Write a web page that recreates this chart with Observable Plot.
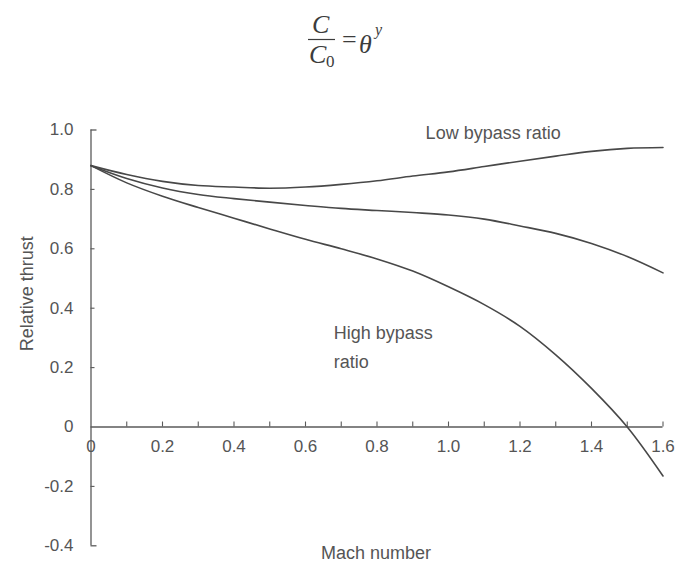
<!DOCTYPE html>
<html>
<head>
<meta charset="utf-8">
<script src="https://cdn.jsdelivr.net/npm/d3@7"></script>
<script src="https://cdn.jsdelivr.net/npm/@observablehq/plot@0.6"></script>
<style>
  html, body { margin: 0; padding: 0; background: #fff; }
  #wrap { position: relative; width: 678px; height: 565px; overflow: hidden; }
  #formula { position: absolute; left: 0; top: 0; }
  #chart { position: absolute; left: 0; top: 0; }
</style>
</head>
<body>
<div id="wrap">
  <div id="chart"></div>
  <svg id="formula" width="678" height="80" font-family="'Liberation Serif', 'Times New Roman', serif" fill="#3c3c3c">
    <text x="312" y="33" font-size="26" font-style="italic">C</text>
    <line x1="308" x2="335" y1="39.5" y2="39.5" stroke="#3c3c3c" stroke-width="1.2"></line>
    <text x="309" y="63" font-size="26" font-style="italic">C</text>
    <text x="326" y="67" font-size="17">0</text>
    <text x="342" y="48" font-size="26">=</text>
    <text x="359" y="53" font-size="26" font-style="italic">θ</text>
    <text x="375" y="35" font-size="16" font-style="italic">y</text>
  </svg>
</div>
<script>
// Mach number samples
const mach = [0, 0.1, 0.2, 0.3, 0.4, 0.5, 0.6, 0.7, 0.8, 0.9, 1.0, 1.1, 1.2, 1.3, 1.4, 1.5, 1.6];
// Relative thrust per curve
const lowBypass  = [0.880, 0.850, 0.827, 0.813, 0.808, 0.804, 0.808, 0.817, 0.829, 0.845, 0.859, 0.877, 0.895, 0.912, 0.928, 0.938, 0.941];
const midBypass  = [0.880, 0.837, 0.805, 0.783, 0.769, 0.757, 0.746, 0.736, 0.729, 0.722, 0.714, 0.700, 0.677, 0.652, 0.618, 0.574, 0.519];
const highBypass = [0.880, 0.822, 0.777, 0.739, 0.703, 0.667, 0.632, 0.600, 0.566, 0.525, 0.472, 0.412, 0.339, 0.243, 0.130, 0.000, -0.165];

const seriesNames = ["low", "mid", "high"];
const seriesValues = [lowBypass, midBypass, highBypass];

// Axis ticks and labels
const xDomain = [0, 1.6];
const yDomain = [-0.4, 1.0];
const xMinorTicks = [0.1, 0.2, 0.3, 0.4, 0.5, 0.6, 0.7, 0.8, 0.9, 1.0, 1.1, 1.2, 1.3, 1.4, 1.5, 1.6];
const xTickValues = [0, 0.2, 0.4, 0.6, 0.8, 1.0, 1.2, 1.4, 1.6];
const xTickLabels = ["0", "0.2", "0.4", "0.6", "0.8", "1.0", "1.2", "1.4", "1.6"];
const yTickValues = [1.0, 0.8, 0.6, 0.4, 0.2, 0, -0.2, -0.4];
const yTickLabels = ["1.0", "0.8", "0.6", "0.4", "0.2", "0", "-0.2", "-0.4"];
const yInnerTicks = [0.8, 0.6, 0.4, 0.2, -0.2];
const yEndTicks = [1.0, -0.4];

// Annotations
const curveLabels = [
  {x: 0.936, y: 0.971, text: "Low bypass ratio"},
  {x: 0.679, y: 0.296, text: "High bypass"},
  {x: 0.679, y: 0.200, text: "ratio"}
];
const xTitle = "Mach number";
const yTitle = "Relative thrust";

const rows = [];
seriesNames.forEach((s, k) => mach.forEach((m, i) => rows.push({series: s, mach: m, value: seriesValues[k][i]})));

const ink = "#484848";
const axisInk = "#5a5a5a";
const textInk = "#555";

const plot = Plot.plot({
  width: 678,
  height: 565,
  marginLeft: 90.5,
  marginRight: 15.5,
  marginTop: 129.5,
  marginBottom: 19.7,
  x: {domain: xDomain, axis: null},
  y: {domain: yDomain, axis: null},
  style: {background: "#fff", fontFamily: "'Liberation Sans', Arial, Helvetica, sans-serif"},
  marks: [
    // axis lines
    Plot.ruleX([xDomain[0]], {y1: yDomain[0], y2: yDomain[1], stroke: axisInk, strokeWidth: 1.3}),
    Plot.ruleY([0], {x1: xDomain[0], x2: xDomain[1], stroke: axisInk, strokeWidth: 1.3}),
    // x ticks (upward from the zero line)
    Plot.ruleX(xMinorTicks, {x: d => d, y1: 0, y2: 0, insetTop: -5, stroke: axisInk, strokeWidth: 1.1}),
    // y ticks (inward)
    Plot.ruleY(yInnerTicks, {y: d => d, x1: 0, x2: 0, insetRight: -4, stroke: axisInk, strokeWidth: 1.1}),
    Plot.ruleY(yEndTicks, {y: d => d, x1: 0, x2: 0, insetRight: -6, stroke: axisInk, strokeWidth: 1.3}),
    // tick labels
    Plot.text(xTickValues, {x: d => d, y: 0, text: (d, i) => xTickLabels[i], dy: 20, lineAnchor: "middle", fontSize: 17, fill: textInk}),
    Plot.text(yTickValues, {x: 0, y: d => d, text: (d, i) => yTickLabels[i], dx: -17.5, textAnchor: "end", lineAnchor: "middle", fontSize: 17, fill: textInk}),
    // curves
    Plot.line(rows, {x: "mach", y: "value", z: "series", curve: "catmull-rom", stroke: ink, strokeWidth: 1.6}),
    // annotations
    Plot.text(curveLabels, {x: "x", y: "y", text: "text", textAnchor: "start", lineAnchor: "bottom", fontSize: 18, fill: textInk}),
    Plot.text([xTitle], {x: 0.797, frameAnchor: "bottom", text: d => d, dy: 12.7, lineAnchor: "bottom", fontSize: 18, fill: textInk}),
    Plot.text([yTitle], {x: 0, y: 0.449, text: d => d, dx: -63.5, rotate: -90, lineAnchor: "middle", fontSize: 18, fill: textInk})
  ]
});
document.getElementById("chart").appendChild(plot);
</script>
</body>
</html>
